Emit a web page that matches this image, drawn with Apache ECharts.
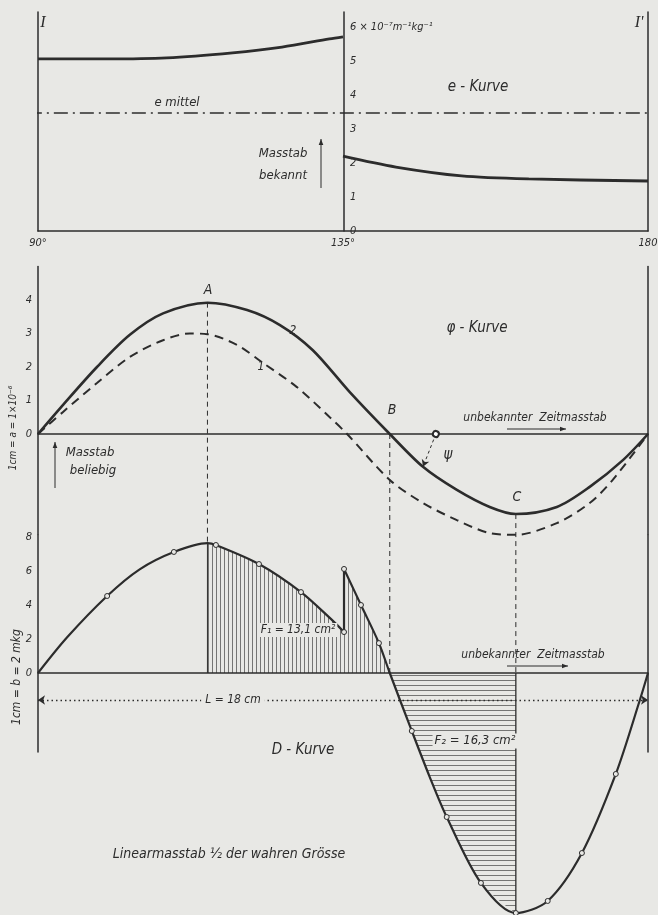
<!DOCTYPE html>
<html>
<head>
<meta charset="utf-8">
<script src="https://cdn.jsdelivr.net/npm/echarts@6/dist/echarts.min.js"></script>
<style>
html, body { margin: 0; padding: 0; background: #e8e8e5; }
#main { width: 658px; height: 915px; }
</style>
</head>
<body>
<div id="main"></div>
<script>
// e-Kurve: Winkel in Grad, Werte in 10^-7 m^-1 kg^-1
let eLeftDeg = [90, 100, 109, 118.7, 126, 133, 135];
let eLeftVal = [5.06, 5.06, 5.09, 5.24, 5.41, 5.65, 5.71];
let eRightDeg = [135, 142.8, 152.5, 162.4, 180];
let eRightVal = [2.2, 1.88, 1.62, 1.53, 1.47];
let eMittel = 3.47;
let eMittelSpan = [88.5, 180.8];
let degTicks = [90, 135, 180];
let degLabels = ['90°', '135°', '180'];

// phi-Kurve (x in cm, Zeitmasstab unbekannt)
let phi2X = [0, 0.74, 1.74, 2.71, 3.69, 5.0, 6.17, 7.14, 8.11, 9.2, 10.38, 11.36, 12.36, 13.33, 14.1, 15.31, 16.28, 17.26, 18];
let phi2Y = [0, 0.87, 2.0, 2.96, 3.6, 3.92, 3.7, 3.25, 2.5, 1.25, 0, -0.98, -1.67, -2.18, -2.39, -2.18, -1.58, -0.78, 0];
let phi1X = [0, 0.74, 1.74, 2.71, 3.69, 4.48, 5.0, 5.87, 6.64, 7.64, 8.61, 9.12, 10.38, 11.36, 12.36, 13.33, 14.1, 15.31, 16.28, 16.96, 18];
let phi1Y = [0, 0.66, 1.52, 2.3, 2.8, 3.0, 2.98, 2.66, 2.12, 1.4, 0.5, 0, -1.37, -2.06, -2.57, -2.96, -3.01, -2.66, -2.06, -1.37, 0];
let psiFrom = [11.74, 0];
let psiTo = [11.36, -0.98];

// D-Kurve [x cm, D, Messpunkt 1/0]
let dA = [[0, 0, 0], [0.86, 2.1, 0], [2.04, 4.53, 1], [3.0, 6.1, 0], [4.01, 7.12, 1], [5.0, 7.64, 0], [5.25, 7.53, 1], [6.52, 6.41, 1], [7.76, 4.76, 1], [8.61, 3.24, 0], [9.03, 2.41, 1]];
let dB = [[9.03, 6.12, 1], [9.53, 4.0, 1], [10.06, 1.76, 1], [10.38, 0, 0], [11.03, -3.41, 1], [11.56, -6.12, 0], [12.06, -8.47, 1], [13.07, -12.35, 1], [14.1, -14.12, 1], [15.04, -13.41, 1], [16.05, -10.59, 1], [17.05, -5.94, 1], [17.76, -1.59, 0], [18, 0, 0]];
let xA = 5.0, xB = 10.38, xC = 14.1;
let lLineY = -1.59;

const paper = '#e8e8e5';
const ink = '#2c2c2c';
const SMOOTH = 0.3;
const FONT = '"Liberation Sans Narrow","DejaVu Sans Condensed","Liberation Sans","DejaVu Sans",sans-serif';

function hatch(vertical) {
    let c = document.createElement('canvas');
    c.width = vertical ? 4 : 8;
    c.height = vertical ? 8 : 5;
    let ctx = c.getContext('2d');
    ctx.strokeStyle = 'rgba(40,40,40,0.6)';
    ctx.lineWidth = 1;
    ctx.beginPath();
    if (vertical) { ctx.moveTo(0.5, 0); ctx.lineTo(0.5, 8); }
    else { ctx.moveTo(0, 0.5); ctx.lineTo(8, 0.5); }
    ctx.stroke();
    return { image: c, repeat: 'repeat' };
}

function pairs(xs, ys) { return xs.map((x, i) => [x, ys[i]]); }
function items(pts) {
    return pts.map(p => p[2] ? { value: [p[0], p[1]], symbol: 'circle' } : { value: [p[0], p[1]], symbol: 'none' });
}
function txt(x, y, s, size, extra) {
    return {
        type: 'text', x: x, y: y, z: 50,
        style: Object.assign({
            text: s, x: 0, y: 0, align: 'center', verticalAlign: 'middle',
            font: 'italic ' + size + 'px ' + FONT, fill: ink
        }, extra || {})
    };
}
function arrow(x1, y1, x2, y2) {
    let a = Math.atan2(y2 - y1, x2 - x1), h = 6, w = 2.3;
    let c = Math.cos(a), s = Math.sin(a);
    return {
        type: 'group', z: 50, children: [
            { type: 'line', shape: { x1: x1, y1: y1, x2: x2, y2: y2 }, style: { stroke: ink, lineWidth: 1 } },
            { type: 'polygon', shape: { points: [[x2, y2], [x2 - h * c + w * s, y2 - h * s - w * c], [x2 - h * c - w * s, y2 - h * s + w * c]] }, style: { fill: ink } }
        ]
    };
}

let axisLine = { show: true, onZero: false, lineStyle: { color: ink, width: 1.5 } };
let tickLabel = { color: ink, fontSize: 11, fontStyle: 'italic', fontFamily: FONT };

let dAfill = dA.filter(p => p[0] >= xA).map(p => [p[0], p[1]]);
let dBfill1 = dB.filter(p => p[0] <= xB).map(p => [p[0], p[1]]);
let dBfill2 = dB.filter(p => p[0] >= xB && p[0] <= xC).map(p => [p[0], p[1]]);
let dAtA = dA.find(p => p[0] === xA)[1];
let dAtC = dB.find(p => p[0] === xC)[1];
let phiAtA = phi2Y[phi2X.indexOf(xA)];
let phiAtC = phi2Y[phi2X.indexOf(xC)];

let chart = echarts.init(document.getElementById('main'));
let option = {
    animation: false,
    backgroundColor: paper,
    grid: [
        { left: 38, width: 610, top: 12, height: 219, outerBoundsMode: 'none' },
        { left: 38, width: 610, top: 266.5, height: 268, outerBoundsMode: 'none' },
        { left: 38, width: 610, top: 535, height: 217, outerBoundsMode: 'none' }
    ],
    xAxis: [
        {
            gridIndex: 0, type: 'value', min: 90, max: 180, interval: 45,
            axisLine: { show: true, lineStyle: { color: ink, width: 1.5 } },
            axisTick: { show: false }, splitLine: { show: false },
            axisLabel: Object.assign({ margin: 7, formatter: v => degLabels[degTicks.indexOf(v)] || '' }, tickLabel)
        },
        {
            gridIndex: 1, type: 'value', min: 0, max: 18,
            axisLine: { show: true, onZero: true, lineStyle: { color: ink, width: 1.5 } },
            axisTick: { show: false }, splitLine: { show: false }, axisLabel: { show: false }
        },
        {
            gridIndex: 2, type: 'value', min: 0, max: 18,
            axisLine: { show: true, onZero: true, lineStyle: { color: ink, width: 1.5 } },
            axisTick: { show: false }, splitLine: { show: false }, axisLabel: { show: false }
        }
    ],
    yAxis: [
        // 0: e links
        { gridIndex: 0, type: 'value', min: 0, max: 6.44, axisLine: axisLine, axisTick: { show: false }, splitLine: { show: false }, axisLabel: { show: false } },
        // 1: e Mitte (135°) mit Skala
        {
            gridIndex: 0, type: 'value', min: 0, max: 6.44, interval: 1, position: 'left', offset: -306,
            axisLine: axisLine, axisTick: { show: false }, splitLine: { show: false },
            axisLabel: Object.assign({
                inside: true, margin: 6,
                formatter: v => v === 6 ? '6 × 10⁻⁷m⁻¹kg⁻¹' : (Number.isInteger(v) ? String(v) : '')
            }, tickLabel)
        },
        // 2: e rechts
        { gridIndex: 0, type: 'value', min: 0, max: 6.44, position: 'right', axisLine: axisLine, axisTick: { show: false }, splitLine: { show: false }, axisLabel: { show: false } },
        // 3: phi links
        {
            gridIndex: 1, type: 'value', min: -3, max: 5, interval: 1,
            axisLine: axisLine, axisTick: { show: false }, splitLine: { show: false },
            axisLabel: Object.assign({ margin: 6, formatter: v => (v >= 0 && v <= 4) ? String(v) : '' }, tickLabel)
        },
        // 4: phi rechts
        { gridIndex: 1, type: 'value', min: -3, max: 5, position: 'right', axisLine: axisLine, axisTick: { show: false }, splitLine: { show: false }, axisLabel: { show: false } },
        // 5: D links
        {
            gridIndex: 2, type: 'value', min: -4.647, max: 8.118, splitNumber: 6,
            axisLine: axisLine, axisTick: { show: false }, splitLine: { show: false },
            axisLabel: Object.assign({ margin: 6, showMinLabel: false, showMaxLabel: false, formatter: v => (v >= 0 && v <= 8 && v % 2 === 0) ? String(v) : '' }, tickLabel)
        },
        // 6: D rechts
        { gridIndex: 2, type: 'value', min: -4.647, max: 8.118, position: 'right', axisLine: axisLine, axisTick: { show: false }, splitLine: { show: false }, axisLabel: { show: false } }
    ],
    series: [
        // e-Kurve
        { type: 'line', xAxisIndex: 0, yAxisIndex: 0, data: pairs(eLeftDeg, eLeftVal), smooth: SMOOTH, symbol: 'none', lineStyle: { color: ink, width: 2.8 } },
        { type: 'line', xAxisIndex: 0, yAxisIndex: 0, data: pairs(eRightDeg, eRightVal), smooth: SMOOTH, symbol: 'none', lineStyle: { color: ink, width: 2.8 } },
        {
            type: 'line', xAxisIndex: 0, yAxisIndex: 0, clip: false, symbol: 'none',
            data: [[eMittelSpan[0], eMittel], [eMittelSpan[1], eMittel]],
            lineStyle: { color: ink, width: 1.4, type: [14, 5, 2, 5] }
        },
        // phi-Kurve 2 (voll) und 1 (gestrichelt)
        {
            type: 'line', xAxisIndex: 1, yAxisIndex: 3, data: pairs(phi2X, phi2Y), smooth: SMOOTH, symbol: 'none', clip: false,
            lineStyle: { color: ink, width: 2.6 },
            markLine: {
                silent: true, symbol: ['emptyCircle', 'arrow'], symbolSize: [6, 7],
                lineStyle: { color: ink, width: 1, type: [3, 3] }, label: { show: false },
                data: [[{ coord: psiFrom }, { coord: psiTo }]]
            }
        },
        { type: 'line', xAxisIndex: 1, yAxisIndex: 3, data: pairs(phi1X, phi1Y), smooth: SMOOTH, symbol: 'none', clip: false, lineStyle: { color: ink, width: 2, type: [9, 6] } },
        // Schraffuren F1, F2
        { type: 'line', xAxisIndex: 2, yAxisIndex: 5, data: dAfill, smooth: SMOOTH, symbol: 'none', clip: false, z: 1, lineStyle: { width: 0 }, areaStyle: { color: hatch(true), opacity: 1 } },
        { type: 'line', xAxisIndex: 2, yAxisIndex: 5, data: dBfill1, smooth: SMOOTH, symbol: 'none', clip: false, z: 1, lineStyle: { width: 0 }, areaStyle: { color: hatch(true), opacity: 1 } },
        { type: 'line', xAxisIndex: 2, yAxisIndex: 5, data: dBfill2, smooth: SMOOTH, symbol: 'none', clip: false, z: 1, lineStyle: { width: 0 }, areaStyle: { color: hatch(false), opacity: 1 } },
        { type: 'line', xAxisIndex: 2, yAxisIndex: 5, data: [[xA, dAtA], [xA, 0]], symbol: 'none', lineStyle: { color: ink, width: 1 } },
        { type: 'line', xAxisIndex: 2, yAxisIndex: 5, data: [[xC, 0], [xC, dAtC]], symbol: 'none', clip: false, lineStyle: { color: ink, width: 1.3 } },
        // D-Kurve
        {
            type: 'line', xAxisIndex: 2, yAxisIndex: 5, data: items(dA), smooth: SMOOTH, clip: false, showAllSymbol: true,
            symbolSize: 5, itemStyle: { color: paper, borderColor: ink, borderWidth: 1 },
            lineStyle: { color: ink, width: 2.2 },
            markLine: {
                silent: true, symbol: ['arrow', 'arrow'], symbolSize: 7,
                lineStyle: { color: ink, width: 1.3, type: [1.5, 3] }, label: { show: false },
                data: [[{ coord: [0, lLineY] }, { coord: [18, lLineY] }]]
            }
        },
        { type: 'line', xAxisIndex: 2, yAxisIndex: 5, data: [dA[dA.length - 1].slice(0, 2), dB[0].slice(0, 2)], symbol: 'none', lineStyle: { color: ink, width: 2.2 } },
        {
            type: 'line', xAxisIndex: 2, yAxisIndex: 5, data: items(dB), smooth: SMOOTH, clip: false, showAllSymbol: true,
            symbolSize: 5, itemStyle: { color: paper, borderColor: ink, borderWidth: 1 },
            lineStyle: { color: ink, width: 2.2 }, z: 3
        }
    ]
};
chart.setOption(option);

// senkrechte Hilfslinien zwischen phi- und D-Kurve
let pA1 = chart.convertToPixel({ gridIndex: 1 }, [xA, phiAtA]);
let pA2 = chart.convertToPixel({ gridIndex: 2 }, [xA, dAtA]);
let pB1 = chart.convertToPixel({ gridIndex: 1 }, [xB, 0]);
let pB2 = chart.convertToPixel({ gridIndex: 2 }, [xB, 0]);
let pC1 = chart.convertToPixel({ gridIndex: 1 }, [xC, phiAtC]);
let pC2 = chart.convertToPixel({ gridIndex: 2 }, [xC, 0]);
function dash(p, q) {
    return { type: 'line', z: 40, shape: { x1: p[0], y1: p[1], x2: q[0], y2: q[1] }, style: { stroke: ink, lineWidth: 1, lineDash: [5, 4] } };
}

chart.setOption({
    graphic: [
        dash(pA1, pA2), dash(pB1, pB2), dash(pC1, pC2),
        txt(43, 23, 'I', 16, { font: 'italic 16px "Liberation Serif","DejaVu Serif",serif' }),
        txt(639, 23, "I'", 16, { font: 'italic 16px "Liberation Serif","DejaVu Serif",serif' }),
        txt(177, 103, 'e mittel', 13),
        txt(478, 87, 'e - Kurve', 15),
        txt(283, 154, 'Masstab', 13),
        txt(283, 176, 'bekannt', 13),
        arrow(321, 188, 321, 139),
        txt(477, 328, 'φ - Kurve', 15),
        txt(208, 290, 'A', 14),
        txt(293, 331, '2', 12),
        txt(261, 367, '1', 12),
        txt(392, 410, 'B', 14),
        txt(517, 497, 'C', 14),
        txt(535, 418, 'unbekannter  Zeitmasstab', 12),
        arrow(507, 429, 566, 429),
        txt(448, 455, 'ψ', 15),
        txt(90, 453, 'Masstab', 13),
        txt(93, 471, 'beliebig', 13),
        arrow(55, 488, 55, 442),
        Object.assign(txt(13, 428, '1cm = a = 1×10⁻⁶', 10), { rotation: Math.PI / 2 }),
        Object.assign(txt(17, 677, '1cm = b = 2 mkg', 12), { rotation: Math.PI / 2 }),
        txt(298, 630, 'F₁ = 13,1 cm²', 12, { backgroundColor: paper, padding: [1, 2] }),
        txt(533, 655, 'unbekannter  Zeitmasstab', 12),
        arrow(507, 666, 568, 666),
        txt(233, 700, 'L = 18 cm', 12, { backgroundColor: paper, padding: [1, 4] }),
        txt(475, 741, 'F₂ = 16,3 cm²', 13, { backgroundColor: paper, padding: [1, 2] }),
        txt(303, 750, 'D - Kurve', 15),
        txt(229, 854, 'Linearmasstab ½ der wahren Grösse', 14)
    ]
});
</script>
</body>
</html>
